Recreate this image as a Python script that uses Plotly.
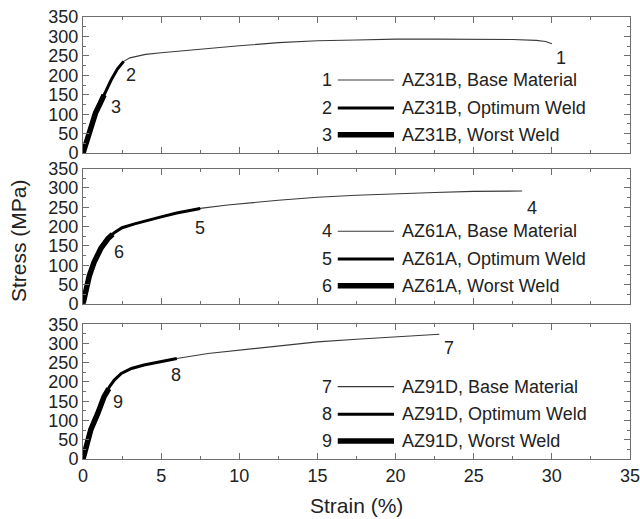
import plotly.graph_objects as go

# ---------------- data ----------------
# Panel 1: AZ31B
az31_base_strain = [0, 0.2, 0.5, 0.8, 1.35, 1.8, 2.2, 2.6, 3.0, 3.5, 4.0, 5.0, 6.0, 7.5, 10, 12.5, 15, 17.5, 20, 22.5, 25, 27.5, 29.0, 29.6, 30.0]
az31_base_stress = [0, 28, 71, 103, 152, 188, 216, 236, 245, 250, 254, 258, 262, 267, 276, 284, 289, 291, 293, 293, 293, 292, 290, 287, 281]
az31_opt_strain = [0, 0.2, 0.5, 0.8, 1.35, 1.8, 2.2, 2.6]
az31_opt_stress = [0, 28, 71, 103, 152, 188, 216, 236]
az31_worst_strain = [0, 0.2, 0.5, 0.8, 1.1, 1.35]
az31_worst_stress = [0, 28, 71, 103, 128, 150]

# Panel 2: AZ61A
az61_base_strain = [0, 0.2, 0.4, 0.7, 1.15, 1.6, 2.0, 2.5, 3.3, 5.0, 6.0, 7.5, 9.25, 12.5, 15, 17.5, 20, 22.5, 25, 27, 28.1]
az61_base_stress = [0, 39, 72, 107, 144, 169, 184, 197, 207, 225, 235, 247, 256, 268, 276, 281, 285, 288, 291, 292, 292]
az61_opt_strain = [0, 0.2, 0.4, 0.7, 1.15, 1.6, 2.0, 2.5, 3.3, 5.0, 6.0, 7.5]
az61_opt_stress = [0, 39, 72, 107, 144, 169, 184, 197, 207, 225, 235, 247]
az61_worst_strain = [0, 0.2, 0.4, 0.7, 1.15, 1.6, 1.9]
az61_worst_stress = [0, 39, 72, 107, 144, 169, 180]

# Panel 3: AZ91D
az91_base_strain = [0, 0.2, 0.5, 0.95, 1.35, 1.7, 2.0, 2.45, 3.1, 3.9, 5.0, 6.0, 8.0, 10, 12.5, 15, 17.5, 20, 22.8]
az91_base_stress = [0, 33, 76, 119, 162, 188, 205, 222, 235, 244, 253, 261, 274, 283, 294, 304, 311, 318, 324]
az91_opt_strain = [0, 0.2, 0.5, 0.95, 1.35, 1.7, 2.0, 2.45, 3.1, 3.9, 5.0, 6.0]
az91_opt_stress = [0, 33, 76, 119, 162, 188, 205, 222, 235, 244, 253, 261]
az91_worst_strain = [0, 0.2, 0.5, 0.95, 1.35, 1.65]
az91_worst_stress = [0, 33, 76, 119, 162, 183]

curve_numbers = ["1", "2", "3", "4", "5", "6", "7", "8", "9"]
label_strain = [30.6, 3.1, 2.1, 28.7, 7.5, 2.3, 23.4, 5.95, 2.25]
label_stress = [244, 200, 118, 247, 197, 134, 288, 218, 149]

legend_texts = [
    ["AZ31B, Base Material", "AZ31B, Optimum Weld", "AZ31B, Worst Weld"],
    ["AZ61A, Base Material", "AZ61A, Optimum Weld", "AZ61A, Worst Weld"],
    ["AZ91D, Base Material", "AZ91D, Optimum Weld", "AZ91D, Worst Weld"],
]
legend_rows_stress = [188, 116, 47]

x_ticks = [0, 5, 10, 15, 20, 25, 30, 35]
y_ticks = [0, 50, 100, 150, 200, 250, 300, 350]

# ---------------- styling ----------------
FONT = "Liberation Sans, Arial, sans-serif"
AX = "#6e6e6e"
TXT = "#222"
styles = [dict(color="#3a3a3a", width=1.1), dict(color="black", width=3), dict(color="black", width=5.5)]

panels = [
    [(az31_base_strain, az31_base_stress), (az31_opt_strain, az31_opt_stress), (az31_worst_strain, az31_worst_stress)],
    [(az61_base_strain, az61_base_stress), (az61_opt_strain, az61_opt_stress), (az61_worst_strain, az61_worst_stress)],
    [(az91_base_strain, az91_base_stress), (az91_opt_strain, az91_opt_stress), (az91_worst_strain, az91_worst_stress)],
]

fig = go.Figure()
ydomains = [[0.692, 1.0], [0.351, 0.657], [0.0, 0.305]]

for p, curves in enumerate(panels):
    xa = "x" if p == 0 else f"x{p+1}"
    ya = "y" if p == 0 else f"y{p+1}"
    for c, (xs, ys) in enumerate(curves):
        fig.add_trace(go.Scatter(x=xs, y=ys, mode="lines", line=dict(**styles[c]),
                                 xaxis=xa, yaxis=ya, showlegend=False, hoverinfo="skip"))
    for k in range(3):
        i = p * 3 + k
        fig.add_annotation(x=label_strain[i], y=label_stress[i], xref=xa, yref=ya,
                           text=curve_numbers[i], showarrow=False,
                           font=dict(family=FONT, size=18, color=TXT))
    for k in range(3):
        i = p * 3 + k
        yv = legend_rows_stress[k]
        fig.add_annotation(x=15.6, y=yv, xref=xa, yref=ya, text=curve_numbers[i], showarrow=False,
                           font=dict(family=FONT, size=18, color=TXT))
        fig.add_shape(type="line", x0=16.3, x1=19.9, y0=yv, y1=yv, xref=xa, yref=ya,
                      line=dict(**styles[k]))
        fig.add_annotation(x=20.3, y=yv, xref=xa, yref=ya, text=legend_texts[p][k], showarrow=False,
                           xanchor="left", font=dict(family=FONT, size=18, color=TXT))

common_x = dict(range=[0, 35], tickvals=x_ticks, showline=True, linecolor=AX, linewidth=1, mirror="ticks",
                ticks="inside", ticklen=6, tickcolor=AX, showgrid=False, zeroline=False, automargin=False,
                ticklabeloverflow="allow",
                minor=dict(ticks="inside", ticklen=3, dtick=2.5, tickcolor=AX),
                tickfont=dict(family=FONT, size=18, color=TXT))
common_y = dict(range=[0, 350], tickvals=y_ticks, showline=True, linecolor=AX, linewidth=1, mirror="ticks",
                ticks="inside", ticklen=6, tickcolor=AX, showgrid=False, zeroline=False, automargin=False,
                ticklabeloverflow="allow",
                minor=dict(ticks="inside", ticklen=3, dtick=25, tickcolor=AX),
                tickfont=dict(family=FONT, size=18, color=TXT))

fig.update_layout(
    width=640, height=519,
    margin=dict(l=83, r=10, t=17, b=60, autoexpand=False),
    paper_bgcolor="white", plot_bgcolor="white",
    xaxis=dict(common_x, anchor="y", showticklabels=False),
    xaxis2=dict(common_x, anchor="y2", matches="x", showticklabels=False),
    xaxis3=dict(common_x, anchor="y3", matches="x"),
    yaxis=dict(common_y, anchor="x", domain=ydomains[0]),
    yaxis2=dict(common_y, anchor="x2", domain=ydomains[1]),
    yaxis3=dict(common_y, anchor="x3", domain=ydomains[2]),
)

fig.add_annotation(x=0.5, y=-0.106, xref="paper", yref="paper", text="Strain (%)", showarrow=False,
                   font=dict(family=FONT, size=21, color=TXT), yanchor="middle")
fig.add_annotation(x=-0.119, y=0.495, xref="paper", yref="paper", text="Stress (MPa)", showarrow=False,
                   textangle=-90, font=dict(family=FONT, size=21, color=TXT), xanchor="center")

# remove the default page margin and scrollbars so the figure fills the 640x519 window exactly
fig.write_html("out.html",
               config={"displayModeBar": False},
               post_script="document.body.style.margin='0';document.body.style.overflow='hidden';"
                           "document.documentElement.style.overflow='hidden';")
